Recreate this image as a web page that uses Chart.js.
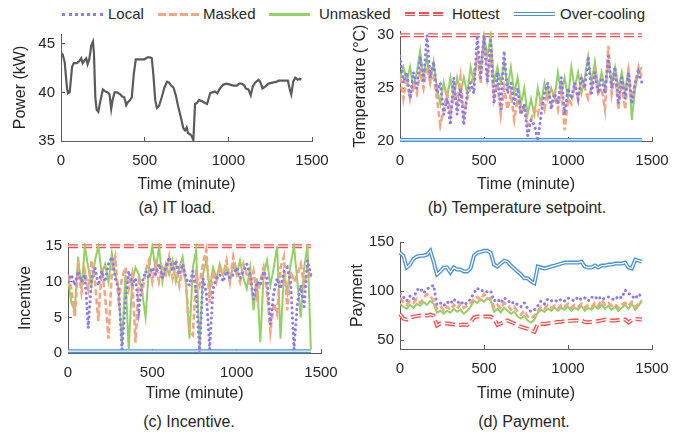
<!DOCTYPE html>
<html>
<head>
<meta charset="utf-8">
<script src="https://cdn.jsdelivr.net/npm/chart.js@4.4.1/dist/chart.umd.min.js"></script>
<style>
  body { margin: 0; background: #fff; }
  #wrap { position: relative; width: 689px; height: 436px; overflow: hidden; font-family: 'Liberation Sans', Arial, sans-serif; color: #262626; }
  canvas { position: absolute; }
  .lt { position: absolute; top: 5px; font-size: 15px; line-height: 18px; white-space: nowrap; }
  .ls { position: absolute; width: 41px; }
  .cap { position: absolute; font-size: 16px; line-height: 18px; white-space: nowrap; transform: translateX(-50%); }
</style>
</head>
<body>
<div id="wrap">
  <div class="ls" style="left:62px;top:13px;border-top:3px dotted #8d7bf2;"></div>
  <div class="lt" style="left:108px">Local</div>
  <div class="ls" style="left:158px;top:13px;height:3px;background:repeating-linear-gradient(to right,#f4a582 0 8px,transparent 8px 11px);"></div>
  <div class="lt" style="left:203px">Masked</div>
  <div class="ls" style="left:269px;top:13px;border-top:3px solid #93d164;"></div>
  <div class="lt" style="left:319px">Unmasked</div>
  <div class="ls" style="left:405px;top:12px;height:4px;background:repeating-linear-gradient(to right,#ff4d4d 0 10px,transparent 10px 14px);">
    <div style="position:absolute;left:0;top:1.5px;width:41px;height:1px;background:#fff"></div>
  </div>
  <div class="lt" style="left:452px">Hottest</div>
  <div class="ls" style="left:514px;top:12px;border-top:4px double #4b92db;"></div>
  <div class="lt" style="left:560px">Over-cooling</div>

  <canvas id="loadChart" width="340" height="174" style="left:0;top:20px"></canvas>
  <canvas id="tempChart" width="349" height="174" style="left:340px;top:20px"></canvas>
  <canvas id="incChart" width="345" height="173" style="left:0;top:230px"></canvas>
  <canvas id="payChart" width="344" height="173" style="left:345px;top:230px"></canvas>

  <div class="cap" style="left:177px;top:199px">(a) IT load.</div>
  <div class="cap" style="left:517px;top:199px">(b) Temperature setpoint.</div>
  <div class="cap" style="left:189px;top:413px">(c) Incentive.</div>
  <div class="cap" style="left:524px;top:413px">(d) Payment.</div>
</div>
<script>
// tick labels
const timeTicks = [0, 500, 1000, 1500];
const powerTicks = [35, 40, 45];
const tempTicks = [20, 25, 30];
const incTicks = [0, 5, 10, 15];
const payTicks = [50, 100, 150];

// (a) IT load
const loadTime = [0,10,22,36,42,52,66,76,95,109,121,129,141,151,159,169,181,191,197,205,
  213,223,234,250,264,280,290,300,308,320,336,354,364,378,390,400,413,423,435,447,
  463,483,499,517,533,543,553,563,573,586,602,618,634,646,658,672,686,701,717,731,
  741,751,759,771,781,791,801,811,825,841,861,873,891,904,920,934,950,970,990,1010,
  1030,1050,1066,1080,1096,1104,1120,1134,1146,1160,1180,1190,1204,1220,1240,1264,1290,1300,1330,1356,
  1366,1376,1388,1400,1414,1426,1436];
const loadPower = [44.0,43.9,43.1,40.4,39.9,40.0,42.6,43.0,43.0,43.2,43.5,43.0,43.3,43.5,42.9,43.4,44.8,45.2,44.0,39.5,
  38.2,38.0,39.0,40.3,40.1,40.0,39.8,38.3,39.2,40.0,40.0,39.8,39.6,39.5,38.7,39.0,39.2,39.5,41.9,43.4,
  43.4,43.4,43.4,43.6,43.6,43.5,41.6,39.2,38.4,38.6,39.5,40.5,41.1,41.0,40.7,40.5,39.7,38.5,37.4,36.3,
  36.1,36.4,35.8,35.7,35.5,35.1,38.8,38.9,39.2,39.1,38.9,38.8,39.9,40.0,40.1,39.9,40.4,40.8,40.9,40.8,
  40.7,40.7,40.9,40.9,40.7,40.4,40.3,39.7,40.6,41.0,41.3,41.1,40.4,40.6,40.9,41.0,41.1,41.2,41.2,41.2,
  40.4,39.8,41.1,41.5,41.3,41.4,41.3];

// time steps for (b), (c), (d)
const stepTime = [0,20,40,60,80,100,120,140,160,180,
  200,220,240,260,280,300,320,340,360,380,
  400,420,440,460,480,500,520,540,560,580,
  600,620,640,660,680,700,720,740,760,780,
  800,820,840,860,880,900,920,940,960,980,
  1000,1020,1040,1060,1080,1100,1120,1140,1160,1180,
  1200,1220,1240,1260,1280,1300,1320,1340,1360,1380,
  1400,1420,1440];
const flatTime = [0, 1440];

// (b) temperature setpoint
const tempLocal = [28,25.5,26.5,24,26.5,25,28,25.5,30,26,
  27.5,24.5,25.5,22.5,24,21.5,26,22.5,25,21.5,
  24.5,25.5,24.5,30,26,30,25.5,29.5,23.5,26.5,
  23,28.5,24.5,25.5,23.5,25,22.5,23.5,20.5,22,
  21.5,20,22.5,24.5,25.5,23,24.5,23.5,26,22.5,
  25,24,25.5,24,26,25,28,24.5,26.5,24.5,
  26,24.5,28,25,27,23.5,26,24,26.5,23.5,
  25.5,26.5,25.5];
const tempMasked = [26,24,26,24,25.5,24.5,26.5,25,27,25.5,
  26,24,21.5,23,24.5,22.5,25,23.5,26,22.5,
  24,25,26.5,28,25.5,30,26,28,24,25.5,
  22.5,25,23,24.5,22,24,22.5,23.5,21.5,22,
  23,22.5,24,23,25,23.5,24.5,23,25,21,
  24,23.5,25.5,24,26,25,24,25,26.5,24.5,
  25,23,29,24.5,26.5,23,25.5,23,26.5,24,
  25.5,27,26];
const tempUnmasked = [26,27,25.5,27,25,26.5,28.5,26,28,25.5,
  27.5,25,23.5,25.5,24,26,24,26,24.5,26,
  24.5,27,25.5,28,27,30,28,30,25.5,27,
  25.5,27.5,25,27,24.5,26,23.5,25,22.5,24,
  22.5,25,23.5,25.5,24,25,24,26.5,24.5,26,
  24,27,25,26.5,24.5,26,28,25.5,27.5,25,
  26.5,25,27.5,25.5,27,25,26.5,24.5,27,22,
  25,26.5,27];
const tempHottest = [30, 30];
const tempCooling = [20.1, 20.1];

// (c) incentive
const incLocal = [10,11,9.5,11.5,10,11,3.5,10.5,12,9.5,
  11.5,10,12.5,13.5,10.5,9,0.5,7,11.5,9.5,
  10.5,6,10,11.5,10.5,12,11,12.5,10.5,12,
  13.5,11.5,13,11,12.5,10.5,9.5,11.5,8.5,0,
  10.5,8.5,0.5,9,10.5,11,10,11.5,10.5,11,
  12,10.5,11.5,12.5,11,7.5,10,9.5,11.5,10.5,
  4,8.5,10.5,9,11.5,12,10,0.5,7,9.5,
  6.5,13,11];
const incMasked = [11,9,5,12,8.5,11.5,9,13,10,4.5,
  12,8,2,11.5,13.5,7.5,10.5,12,9,11,
  1.5,10,8.5,11.5,13,10,12.5,10,12,11,
  13.5,10.5,12.5,9.5,12,10,3,2.5,11,9.5,
  12.5,14.5,7,11.5,10,12,11,13,10,13.5,
  11.5,10,12.5,11,9.5,11.5,8,10,12,8.5,
  3,7,5.5,12,13.5,6,11.5,10,11,12.5,
  9.5,12,10.5];
const incUnmasked = [10.5,7,6,13.5,9,15,12,9.5,13,15,
  11,12.5,10,14,11,9,1,11,0.5,10,
  12,11,8.5,5,12,15,11.5,15,10,12.5,
  11,13,10,12,13.5,9.5,2,12,14.5,0.5,
  11,13,9,12,10.5,12.5,11,12,10,12.5,
  11,13,10.5,9,12,6,10.5,1.5,11,13,
  9.5,12,15,2,11,8.5,12.5,15,10,5,
  12,15,0.5];
const incHottest = [15, 15];
const incCooling = [0.25, 0.25];

// (d) payment
const payLocal = [97,94,90,95,92,101,103,98,102,104,
  106,86,88,85,89,87,92,88,90,86,
  88,92,98,103,100,101,99,100,90,92,
  88,93,91,87,89,86,84,88,82,79,
  81,85,90,87,92,90,91,89,92,90,
  93,91,90,94,91,93,90,94,92,95,
  91,93,94,92,91,95,93,101,98,95,
  92,97,94];
const payMasked = [93,89,86,90,88,92,88,93,97,95,
  90,82,85,80,84,81,86,82,87,83,
  85,88,92,94,91,97,92,93,83,86,
  82,88,86,81,84,79,76,80,74,72,
  75,80,84,82,86,83,85,82,86,84,
  87,83,86,84,87,83,86,84,88,85,
  91,86,88,85,87,83,86,88,85,89,
  84,87,88];
const payUnmasked = [87,84,82,86,83,87,85,89,86,90,
  87,78,80,77,80,78,82,79,81,77,
  80,84,90,88,92,89,93,90,79,82,
  78,83,80,77,79,74,72,75,70,68,
  71,78,81,79,82,80,83,80,83,81,
  84,80,83,81,85,80,83,81,85,82,
  86,82,85,81,84,80,83,86,82,87,
  81,85,91];
const payHottest = [76.5,72,71,73,74,74.5,75,75,75,76,
  75,65,67,67,67,66.5,66,65.5,65.5,66,
  65.5,68,73,74,74,74,74,74,72,65.5,
  67,68.5,70,68.5,67,65,63.5,62.5,61.5,60,
  58.5,66.5,66.5,66.5,67,67.5,68,68.5,68.8,69.2,
  69.5,69.8,70,70,70,68.5,68.2,68.5,68.8,69.5,
  70.2,71,70.5,70,70,70.5,71,71,68,70.5,
  71.5,71.3,71];
const payCooling = [139,136,124,127,133,135,136,136,137,141,
  130,117,120,124,124,119,124,122,122,120,
  120,123,136,139,140,141,141,139,127,125,
  128,131,130,126,123,120,117,113,113,110,
  108,125,124,123,124,125,126,127,128,129,
  129,129,129,129,130,125,124,124,126,124,
  126,126,127,127,128,128,128,129,124,123,
  132,131,130];

const FONT = "'Liberation Sans', Arial, sans-serif";
const AXIS = '#5a5a5a';
const C_LOCAL = '#8d7bf2';
const C_MASKED = '#f4a582';
const C_UNMASKED = '#93d164';
const C_HOT = '#ff4d4d';
const C_COOL = '#4b92db';

Chart.defaults.font.family = FONT;
Chart.defaults.color = '#262626';

function toPoints(xs, ys) {
    return xs.map((x, i) => ({ x: x, y: ys[i] }));
}

// two strokes on top of each other give the double line look
function doubleLine(xs, ys, color, dash, order) {
    return [
        { data: toPoints(xs, ys), borderColor: color, borderWidth: 4, borderDash: dash, order: order + 1, clip: 8 },
        { data: toPoints(xs, ys), borderColor: '#ffffff', borderWidth: 1.3, borderDash: dash, order: order, clip: 8 }
    ];
}

function methodSets(local, masked, unmasked, hotX, hot, coolX, cool) {
    return [
        { data: toPoints(stepTime, local), borderColor: C_LOCAL, borderWidth: 3, borderDash: [0.1, 5], borderCapStyle: 'round', order: 1 },
        { data: toPoints(stepTime, masked), borderColor: C_MASKED, borderWidth: 2.6, borderDash: [6, 3], order: 2 },
        { data: toPoints(stepTime, unmasked), borderColor: C_UNMASKED, borderWidth: 2, order: 3 }
    ].concat(doubleLine(hotX, hot, C_HOT, [10, 4], 8), doubleLine(coolX, cool, C_COOL, [], 10));
}

// small inward tick marks, like the original axes
const innerTicks = { display: true, drawOnChartArea: false, drawTicks: true, tickLength: -4, color: AXIS, lineWidth: 1 };

function makeChart(id, datasets, o) {
    return new Chart(document.getElementById(id), {
        type: 'line',
        data: { datasets: datasets },
        options: {
            responsive: false,
            animation: false,
            layout: { padding: { left: 0, top: o.padTop, right: o.padRight, bottom: 0 } },
            plugins: { legend: { display: false }, tooltip: { enabled: false } },
            elements: { point: { radius: 0 }, line: { tension: 0, fill: false } },
            scales: {
                x: {
                    type: 'linear', min: 0, max: 1500,
                    afterBuildTicks: s => { s.ticks = timeTicks.map(v => ({ value: v })); },
                    // fixed box, label overhang must not move the plot area
                    afterFit: s => { s.height = o.xHeight; s.paddingLeft = 0; s.paddingRight = 0; },
                    grid: innerTicks,
                    border: { color: AXIS, width: 1 },
                    ticks: { padding: 15, font: { size: 15 }, maxRotation: 0, autoSkip: false, callback: v => String(v) },
                    title: { display: true, text: 'Time (minute)', font: { size: 16 }, padding: { top: 0, bottom: 0 } }
                },
                y: {
                    type: 'linear', min: o.yMin, max: o.yMax,
                    afterBuildTicks: s => { s.ticks = o.yTicks.map(v => ({ value: v })); },
                    afterFit: s => { s.width = o.yWidth; s.paddingTop = 0; s.paddingBottom = 0; },
                    grid: innerTicks,
                    border: { color: AXIS, width: 1 },
                    ticks: { padding: 10, font: { size: 15 }, autoSkip: false, callback: v => String(v) },
                    title: { display: true, text: o.yTitle, font: { size: 16 }, padding: { top: o.yTitlePad, bottom: 0 } }
                }
            }
        }
    });
}

makeChart('loadChart', [
    { data: toPoints(loadTime, loadPower), borderColor: '#5b5b5b', borderWidth: 2.2 }
], { padTop: 14, padRight: 28, xHeight: 53, yWidth: 61, yMin: 35, yMax: 46, yTicks: powerTicks, yTitle: 'Power (kW)', yTitlePad: 11 });

makeChart('tempChart',
    methodSets(tempLocal, tempMasked, tempUnmasked, flatTime, tempHottest, flatTime, tempCooling),
    { padTop: 11, padRight: 37, xHeight: 53, yWidth: 60, yMin: 20, yMax: 30.4, yTicks: tempTicks, yTitle: 'Temperature (°C)', yTitlePad: 11 });

makeChart('incChart',
    methodSets(incLocal, incMasked, incUnmasked, flatTime, incHottest, flatTime, incCooling),
    { padTop: 13, padRight: 24, xHeight: 50, yWidth: 68, yMin: 0, yMax: 15.45, yTicks: incTicks, yTitle: 'Incentive', yTitlePad: 16 });

makeChart('payChart',
    methodSets(payLocal, payMasked, payUnmasked, stepTime, payHottest, stepTime, payCooling),
    { padTop: 12, padRight: 37, xHeight: 54, yWidth: 55, yMin: 41, yMax: 150, yTicks: payTicks, yTitle: 'Payment', yTitlePad: 3 });
</script>
</body>
</html>
